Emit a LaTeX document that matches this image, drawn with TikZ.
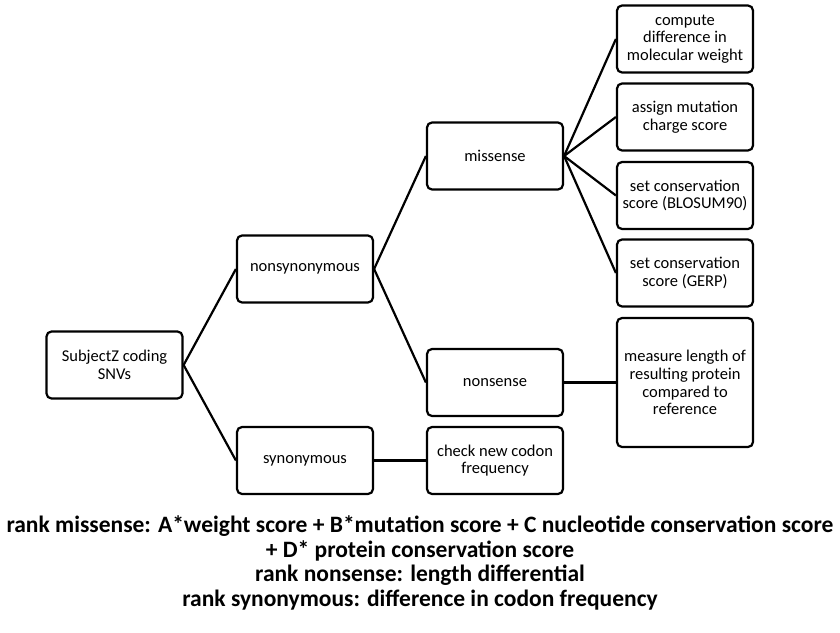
\documentclass[tikz,border=0pt]{standalone}
\usepackage{fontspec}
\setmainfont{Carlito}
\begin{document}
\begin{tikzpicture}[x=1pt,y=-1pt,
  box/.style={draw, line width=2.2pt, rounded corners=5pt, minimum width=136pt, minimum height=67pt, align=center, inner sep=1pt, font=\fontsize{16.5}{17.7}\selectfont},
  conn/.style={line width=2.2pt},
  caption/.style={align=center, font=\bfseries\fontsize{23.5}{24.5}\selectfont}]
\useasboundingbox (0,0) rectangle (840,632);
\node[box] (root) at (114.5,365) {SubjectZ coding\\SNVs};
\node[box] (nonsyn) at (305,269) {nonsynonymous};
\node[box] (syn) at (305,460.5) {synonymous};
\node[box] (mis) at (495,156) {missense};
\node[box] (non) at (495,382.5) {nonsense};
\node[box] (codon) at (495,460.5) {check new codon\\frequency};
\node[box] (weight) at (685,39) {compute\\difference in\\molecular weight};
\node[box] (charge) at (685,117) {assign mutation\\charge score};
\node[box] (blosum) at (685,195.5) {set conservation\\score (BLOSUM90)};
\node[box] (gerp) at (685,273) {set conservation\\score (GERP)};
\node[box, minimum height=129pt] (length) at (685,382.5) {measure length of\\resulting protein\\compared to\\reference};
\draw[conn] (root.east) -- (nonsyn.west);
\draw[conn] (root.east) -- (syn.west);
\draw[conn] (nonsyn.east) -- (mis.west);
\draw[conn] (nonsyn.east) -- (non.west);
\draw[conn] (syn.east) -- (codon.west);
\draw[conn] (non.east) -- (length.west);
\draw[conn] (mis.east) -- (weight.west);
\draw[conn] (mis.east) -- (charge.west);
\draw[conn] (mis.east) -- (blosum.west);
\draw[conn] (mis.east) -- (gerp.west);
\node[caption] (cap) at (420,563) {rank missense: A*weight score + B*mutation score + C nucleotide conservation score\\+ D* protein conservation score\\rank nonsense: length differential\\rank synonymous: difference in codon frequency};
\end{tikzpicture}
\end{document}
